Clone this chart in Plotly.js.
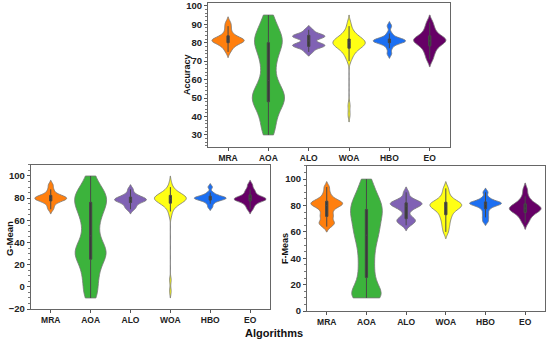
<!DOCTYPE html>
<html>
<head>
<meta charset="utf-8">
<script src="https://cdn.plot.ly/plotly-3.0.1.min.js"></script>
<style>html,body{margin:0;padding:0;background:#fff;}#chart{width:550px;height:340px;}</style>
</head>
<body>
<div id="chart"></div>
<script>
const algorithms = ['MRA', 'AOA', 'ALO', 'WOA', 'HBO', 'EO'];
const colors = ['#ff7f0e', '#3cb33c', '#8062b4', '#ffff14', '#1c6ff2', '#660066'];

// Accuracy samples (estimated)
const accMRA = [75, 77, 78, 79, 80, 80, 81, 81, 81, 81, 82, 82, 82, 83, 84, 85, 87, 89, 91];
const accAOA = [30, 34, 38, 42, 45, 47, 49, 50, 51, 53, 55, 58, 61, 67, 70, 74, 77, 79, 81, 82, 84, 87, 90, 95];
const accALO = [75, 77, 78, 78, 79, 79, 80, 82, 83, 83, 84, 84, 85, 87];
const accWOA = [41, 46, 70, 72, 73, 74, 75, 76, 76, 77, 77, 78, 78, 78, 79, 79, 79, 79, 80, 80, 80, 80, 81, 81, 81, 81, 82, 82, 82, 83, 83, 84, 84, 85, 86, 87, 89, 91];
const accHBO = [74, 77, 79, 80, 80, 81, 81, 81, 81, 82, 82, 83, 85, 89];
const accEO = [71, 74, 76, 78, 79, 80, 81, 81, 82, 82, 83, 84, 86, 88, 91];

// G-Mean samples (estimated)
const gmMRA = [70, 73, 76, 77, 78, 79, 79, 80, 80, 81, 81, 82, 83, 85, 88, 92];
const gmAOA = [-10, -3, 5, 12, 18, 24, 28, 30, 32, 36, 40, 46, 54, 60, 66, 70, 74, 77, 80, 83, 86, 90, 100];
const gmALO = [70, 72, 74, 76, 77, 78, 78, 79, 79, 80, 81, 82, 84, 88];
const gmWOA = [-4, 6, 64, 68, 70, 72, 73, 74, 75, 75, 76, 76, 77, 77, 78, 78, 78, 79, 79, 79, 80, 80, 80, 80, 81, 81, 81, 82, 82, 82, 83, 83, 84, 84, 85, 86, 87, 88, 90, 94];
const gmHBO = [72, 75, 77, 78, 79, 79, 80, 80, 80, 81, 81, 82, 83, 85, 90];
const gmEO = [70, 73, 75, 77, 78, 78, 79, 79, 80, 80, 81, 82, 84, 86, 88, 92];

// F-Meas samples (estimated)
const fmMRA = [64, 66, 67, 68, 71, 72, 74, 76, 78, 79, 80, 81, 81, 82, 82, 83, 84, 85, 87, 90, 94];
const fmAOA = [10, 10, 10, 13, 16, 19, 23, 28, 33, 38, 43, 48, 52, 56, 59, 62, 65, 68, 71, 73, 76, 78, 80, 83, 86, 89, 94, 100];
const fmALO = [65, 67, 68, 69, 70, 72, 76, 78, 79, 80, 81, 81, 82, 82, 83, 84, 86, 90];
const fmWOA = [60, 64, 67, 70, 72, 74, 76, 77, 78, 79, 80, 80, 81, 81, 82, 83, 84, 86, 89, 93];
const fmHBO = [68, 71, 74, 77, 79, 80, 81, 81, 82, 82, 82, 83, 84, 86, 90];
const fmEO = [67, 70, 72, 74, 75, 76, 77, 77, 78, 78, 79, 80, 81, 82, 84, 87, 92];

const panels = [
  {data: [accMRA, accAOA, accALO, accWOA, accHBO, accEO], bw: [1.5, 5, 1.1, 2, 1.2, 2], ax: ['x', 'y']},
  {data: [gmMRA, gmAOA, gmALO, gmWOA, gmHBO, gmEO], bw: [2, 8, 2, 3, 1.5, 2], ax: ['x2', 'y2']},
  {data: [fmMRA, fmAOA, fmALO, fmWOA, fmHBO, fmEO], bw: [2, 6, 2, 2.5, 1.5, 2.5], ax: ['x3', 'y3']}
];

const traces = [];
panels.forEach(p => {
  p.data.forEach((vals, i) => {
    traces.push({
      type: 'violin',
      x: vals.map(() => algorithms[i]),
      y: vals,
      xaxis: p.ax[0], yaxis: p.ax[1],
      fillcolor: colors[i],
      opacity: 1,
      line: {color: '#777777', width: 0.8},
      points: false,
      bandwidth: p.bw[i],
      spanmode: algorithms[i] === 'AOA' ? 'hard' : 'soft',
      scalemode: 'width',
      width: 0.8,
      box: {visible: true, width: 0.07, fillcolor: '#3a3a3a', line: {color: '#484848', width: 1}},
      meanline: {visible: false},
      showlegend: false,
      hoverinfo: 'skip'
    });
  });
});

const FONT = 'Liberation Sans, Arial, sans-serif';
const tickFontX = {family: FONT, size: 8.5, color: '#222', weight: 'bold'};
const tickFontY = {family: FONT, size: 9.5, color: '#222', weight: 'bold'};

function xAx(domain, anchor) {
  return {domain: domain, anchor: anchor, type: 'category', categoryorder: 'array', categoryarray: algorithms,
    range: [-0.5, 5.5], showline: true, mirror: true, linecolor: '#666', linewidth: 1,
    ticks: 'outside', ticklen: 3, tickcolor: '#555', tickfont: tickFontX, showgrid: false, zeroline: false, fixedrange: true};
}
function yAx(domain, anchor, range, dtick, minorDtick) {
  return {domain: domain, anchor: anchor, range: range, dtick: dtick, tick0: 0,
    showline: true, mirror: true, linecolor: '#666', linewidth: 1,
    ticks: 'outside', ticklen: 3, tickcolor: '#555', tickfont: tickFontY,
    minor: {ticks: 'outside', ticklen: 2, dtick: minorDtick, tickcolor: '#777'},
    showgrid: false, zeroline: false, fixedrange: true};
}
function yTitle(text, px, py, size) {
  return {text: text, xref: 'paper', yref: 'paper', x: px / 550, y: 1 - py / 340,
    xanchor: 'center', yanchor: 'middle', textangle: -90, showarrow: false,
    font: {family: FONT, size: size, color: '#111', weight: 'bold'}};
}

const layout = {
  width: 550, height: 340,
  margin: {l: 0, r: 0, t: 0, b: 0},
  paper_bgcolor: '#fff', plot_bgcolor: '#fff',
  violinmode: 'overlay',
  xaxis: xAx([0.378, 0.818], 'y'),
  yaxis: yAx([0.568, 0.991], 'x', [23.5, 101.5], 10, 2),
  xaxis2: xAx([0.056, 0.491], 'y2'),
  yaxis2: yAx([0.091, 0.515], 'x2', [-20, 110], 20, 5),
  xaxis3: xAx([0.558, 0.991], 'y3'),
  yaxis3: yAx([0.085, 0.512], 'x3', [0, 110], 20, 5),
  annotations: [
    yTitle('Accuracy', 187, 75, 9),
    yTitle('G-Mean', 10, 239, 9.5),
    yTitle('F-Meas', 285, 249, 9),
    {text: 'Algorithms', xref: 'paper', yref: 'paper', x: 274 / 550, y: 1 - 333 / 340,
     xanchor: 'center', yanchor: 'middle', showarrow: false,
     font: {family: FONT, size: 11, color: '#111', weight: 'bold'}}
  ]
};

Plotly.newPlot('chart', traces, layout, {staticPlot: true, displayModeBar: false});
</script>
</body>
</html>
